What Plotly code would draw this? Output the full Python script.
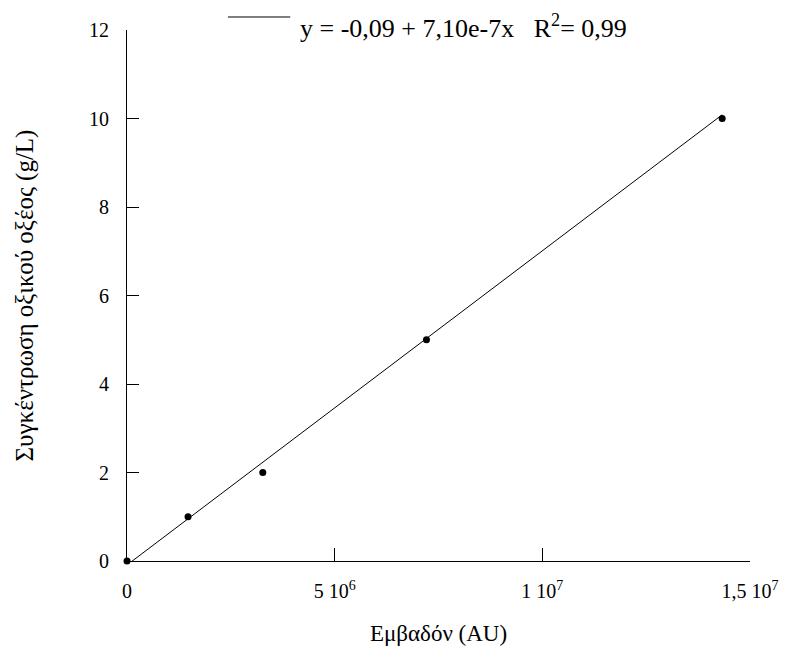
import numpy as np
import plotly.graph_objects as go

# Calibration data: peak area vs acetic acid concentration
area = [0, 1.47e6, 3.27e6, 7.21e6, 1.433e7]
conc = [0, 1, 2, 5, 10]

# Linear fit reported on the chart
intercept = -0.09
slope = 7.10e-7
r2 = 0.99

x_ticks = [0, 5e6, 1e7, 1.5e7]
x_ticktext = ["0", "5 10<sup>6</sup>", "1 10<sup>7</sup>", "1,5 10<sup>7</sup>"]
y_ticks = [0, 2, 4, 6, 8, 10, 12]

serif = "Liberation Serif"

fit_x = np.array([0, max(area)])
fit_y = intercept + slope * fit_x

fig = go.Figure()
fig.add_trace(go.Scatter(x=fit_x, y=fit_y, mode="lines",
                         line=dict(color="black", width=1), showlegend=False))
fig.add_trace(go.Scatter(x=area, y=conc, mode="markers",
                         marker=dict(color="black", size=7), showlegend=False,
                         cliponaxis=False))

# Legend sample line and equation text
fig.add_shape(type="line", xref="paper", yref="paper",
              x0=0.162, x1=0.262, y0=1.0245, y1=1.0245,
              line=dict(color="black", width=1))
eq = (f"y = {intercept:.2f} + 7,10e-7x&nbsp;&nbsp;&nbsp;R<sup>2</sup>= {r2:.2f}"
      .replace("0.", "0,"))
fig.add_annotation(xref="paper", yref="paper", x=0.274, y=1.006,
                   xanchor="left", yanchor="middle", showarrow=False,
                   text=eq,
                   font=dict(size=26, color="black", family=serif))

fig.update_layout(
    template="none",
    width=785, height=655,
    margin=dict(l=127, r=35, t=30, b=94),
    paper_bgcolor="white", plot_bgcolor="white",
    font=dict(family=serif, size=20, color="black"),
    xaxis=dict(range=[0, 1.5e7], tickvals=x_ticks, ticktext=x_ticktext,
               ticks="inside", ticklen=13, tickcolor="black", tickwidth=1,
               tickfont=dict(family=serif, size=20, color="black"),
               showline=True, linecolor="black", linewidth=1,
               showgrid=False, zeroline=False, ticklabelstandoff=12,
               title=dict(text="Εμβαδόν (AU)", standoff=23,
                          font=dict(family=serif, size=23, color="black"))),
    yaxis=dict(range=[0, 12], tickvals=y_ticks,
               ticks="inside", ticklen=12, tickcolor="black", tickwidth=1,
               tickfont=dict(family=serif, size=20, color="black"),
               showline=True, linecolor="black", linewidth=1,
               showgrid=False, zeroline=False, ticklabelstandoff=13,
               title=dict(text="Συγκέντρωση οξικού οξέος (g/L)", standoff=48,
                          font=dict(family=serif, size=25, color="black"))),
)

fig.write_html("out.html")
